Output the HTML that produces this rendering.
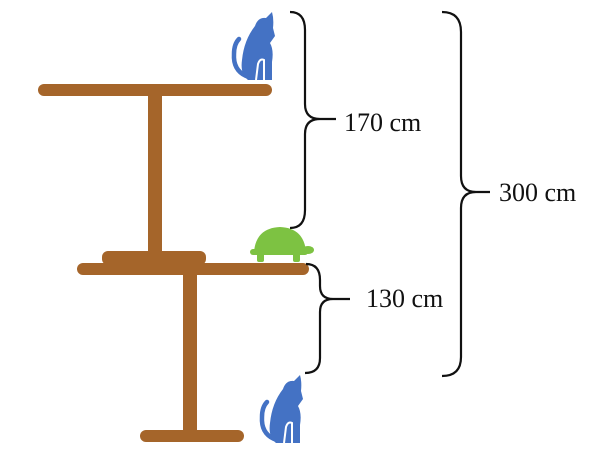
<!DOCTYPE html>
<html><head><style>
html,body{margin:0;padding:0;background:#fff;}
svg{display:block}
text{font-family:"Liberation Serif",serif;font-size:26px;fill:#111}
</style></head><body>
<svg width="604" height="454" viewBox="0 0 604 454">
<g fill="#a5652a">
<rect x="38" y="84" width="234" height="12" rx="6"/>
<rect x="148" y="94" width="14" height="160"/>
<rect x="102" y="251" width="104" height="14" rx="6"/>
<rect x="77" y="263" width="232" height="12" rx="6"/>
<rect x="183" y="273" width="14" height="160"/>
<rect x="140" y="430" width="104" height="12" rx="6"/>
</g>
<!-- turtle -->
<g fill="#7dc242">
<path d="M254 252 Q256 228 280 227 Q304 228 306 252 Z"/>
<rect x="250" y="249" width="58" height="6" rx="3"/>
<ellipse cx="308" cy="250" rx="6" ry="4"/>
<rect x="257" y="253" width="7" height="9" rx="2"/>
<rect x="293" y="253" width="7" height="9" rx="2"/>
</g>
<!-- cats -->
<g id="cat" transform="translate(230,12)">
<path fill="#4472c4" d="M42 68 L42 50 Q44 38 40 31 L45 24 L43 16 Q44 7 42 0 L36 6 Q28 5 25 14 Q14 28 12 48 Q10 62 18 68 Z"/>
<path fill="none" stroke="#4472c4" stroke-width="4.5" stroke-linecap="round" d="M16 64 Q3 58 4 42 Q4 32 9 27"/>
<path fill="none" stroke="#fff" stroke-width="2" d="M26 68 L28 52 Q30 46 34 48 L34 68"/>
</g>
<use href="#cat" transform="translate(28,363)"/>
<!-- braces -->
<g fill="none" stroke="#111" stroke-width="2.2">
<path d="M290 12 Q305 12 305 30 L305 104 Q305 119 320 119 L336 119 M320 119 Q305 119 305 134 L305 210 Q305 228 290 228"/>
<path d="M306 264 Q320 264 320 280 L320 286 Q320 299 333 299 L350 299 M333 299 Q320 299 320 312 L320 358 Q320 373 305 373"/>
<path d="M442 12 Q461 12 461 32 L461 176 Q461 192 476 192 L490 192 M476 192 Q461 192 461 208 L461 357 Q461 376 442 376"/>
</g>
<text x="344" y="131">170 cm</text>
<text x="366" y="307">130 cm</text>
<text x="499" y="201">300 cm</text>
</svg>
</body></html>
